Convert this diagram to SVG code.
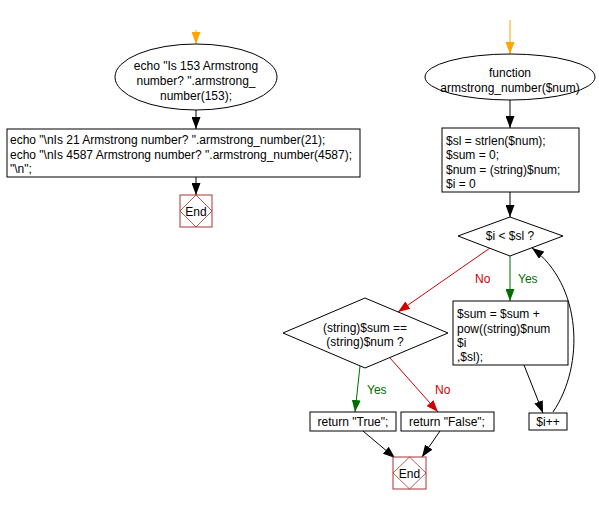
<svg xmlns="http://www.w3.org/2000/svg" width="599" height="505" viewBox="0 0 599 505">
<style>
text{font-family:"Liberation Sans",Arial,sans-serif;font-size:12px;fill:#000}
.s{fill:#fff;stroke:#000;stroke-width:1}
.c{fill:none;stroke:#000;stroke-width:1}
.end{fill:#fff;stroke:#a33;stroke-width:1}
.endd{fill:none;stroke:#a33;stroke-width:0.8}
.m{text-anchor:middle}
.r{fill:#d00000}
.g{fill:#006f00}
</style>
<defs>
<marker id="ab" markerUnits="userSpaceOnUse" markerWidth="12" markerHeight="9" refX="12" refY="4.5" orient="auto"><path d="M0,0 L12,4.5 L0,9 z" fill="#000"/></marker>
<marker id="ao" markerUnits="userSpaceOnUse" markerWidth="12" markerHeight="9" refX="12" refY="4.5" orient="auto"><path d="M0,0 L12,4.5 L0,9 z" fill="#ffa500"/></marker>
<marker id="ar" markerUnits="userSpaceOnUse" markerWidth="12" markerHeight="9" refX="12" refY="4.5" orient="auto"><path d="M0,0 L12,4.5 L0,9 z" fill="#d00000"/></marker>
<marker id="ag" markerUnits="userSpaceOnUse" markerWidth="12" markerHeight="9" refX="12" refY="4.5" orient="auto"><path d="M0,0 L12,4.5 L0,9 z" fill="#006f00"/></marker>
</defs>
<g id="connectors">
<line x1="196" y1="30" x2="196" y2="44" stroke="#ffa500" marker-end="url(#ao)"/>
<line x1="196" y1="110" x2="196" y2="129" class="c" marker-end="url(#ab)"/>
<line x1="196" y1="177" x2="196" y2="195" class="c" marker-end="url(#ab)"/>
<line x1="510" y1="20" x2="510" y2="54" stroke="#ffa500" marker-end="url(#ao)"/>
<line x1="510" y1="100" x2="510" y2="128" class="c" marker-end="url(#ab)"/>
<line x1="510" y1="192" x2="510" y2="217" class="c" marker-end="url(#ab)"/>
<line x1="490" y1="248" x2="398" y2="312" stroke="#d00000" marker-end="url(#ar)"/>
<line x1="510" y1="256" x2="510" y2="301" stroke="#006f00" marker-end="url(#ag)"/>
<line x1="524" y1="365" x2="543" y2="413" class="c" marker-end="url(#ab)"/>
<path d="M553,412 C585,365 582,285 532,248" class="c" marker-end="url(#ab)"/>
<line x1="360" y1="366" x2="355" y2="412" stroke="#006f00" marker-end="url(#ag)"/>
<line x1="390" y1="358" x2="438" y2="412" stroke="#d00000" marker-end="url(#ar)"/>
<line x1="363" y1="431" x2="395" y2="458" class="c" marker-end="url(#ab)"/>
<line x1="440" y1="431" x2="422" y2="457" class="c" marker-end="url(#ab)"/>
<text x="475" y="283" class="r">No</text>
<text x="518" y="283" class="g">Yes</text>
<text x="367" y="394" class="g">Yes</text>
<text x="435" y="394" class="r">No</text>
</g>
<g id="start1">
<ellipse cx="196" cy="77" rx="81" ry="33" class="s"/>
<text x="196" y="70" class="m">echo "Is 153 Armstrong</text>
<text x="196" y="85" class="m">number? ".armstrong_</text>
<text x="196" y="100" class="m">number(153);</text>
</g>
<g id="echo2">
<rect x="7" y="129" width="353" height="48" class="s"/>
<text x="10" y="144">echo "\nIs 21 Armstrong number? ".armstrong_number(21);</text>
<text x="10" y="159">echo "\nIs 4587 Armstrong number? ".armstrong_number(4587);</text>
<text x="10" y="173">"\n";</text>
</g>
<g id="end1">
<rect x="180" y="195" width="32" height="32" class="end"/>
<path d="M196,195 L212,211 L196,227 L180,211 z" class="endd"/>
<text x="196" y="216" class="m">End</text>
</g>
<g id="func">
<ellipse cx="510" cy="77" rx="85" ry="23" class="s"/>
<text x="510" y="77" class="m">function</text>
<text x="510" y="92" class="m">armstrong_number($num)</text>
</g>
<g id="init">
<rect x="442" y="128" width="137" height="64" class="s"/>
<text x="446" y="145">$sl = strlen($num);</text>
<text x="446" y="159">$sum = 0;</text>
<text x="446" y="174">$num = (string)$num;</text>
<text x="446" y="188">$i = 0</text>
</g>
<g id="cond1">
<path d="M510,217 L563,236 L510,256 L458,236 z" class="s"/>
<text x="510" y="240" class="m">$i &lt; $sl ?</text>
</g>
<g id="sum">
<rect x="453" y="301" width="115" height="64" class="s"/>
<text x="457" y="318">$sum = $sum +</text>
<text x="457" y="333">pow((string)$num</text>
<text x="457" y="347">$i</text>
<text x="457" y="361">,$sl);</text>
</g>
<g id="inc">
<rect x="529" y="413" width="38" height="17" class="s"/>
<text x="548" y="426" class="m">$i++</text>
</g>
<g id="cond2">
<path d="M365,298 L448,333 L365,368 L283,333 z" class="s"/>
<text x="365" y="332" class="m">(string)$sum ==</text>
<text x="365" y="346" class="m">(string)$num ?</text>
</g>
<g id="rtrue">
<rect x="310" y="412" width="86" height="19" class="s"/>
<text x="353" y="426" class="m">return "True";</text>
</g>
<g id="rfalse">
<rect x="401" y="412" width="93" height="19" class="s"/>
<text x="447" y="426" class="m">return "False";</text>
</g>
<g id="end2">
<rect x="393" y="457" width="33" height="32" class="end"/>
<path d="M409.5,457 L426,473 L409.5,489 L393,473 z" class="endd"/>
<text x="409.5" y="478" class="m">End</text>
</g>
</svg>
